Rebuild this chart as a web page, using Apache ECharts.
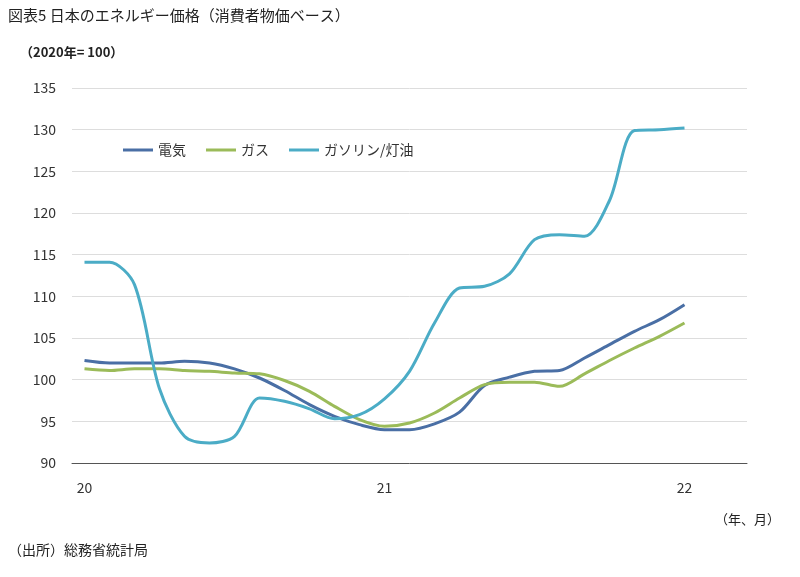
<!DOCTYPE html><html><head><meta charset="utf-8"><script src="https://cdn.jsdelivr.net/npm/echarts@6/dist/echarts.min.js"></script></head><body style="margin:0"><div id="c" style="width:800px;height:577px"></div><script>
const months=[];for(let i=0;i<27;i++){months.push(i%12===0?String(20+i/12):'');}
const elec=[102.3,102.0,102.0,102.0,102.2,102.0,101.3,100.2,98.7,97.0,95.6,94.6,94.0,94.0,94.7,96.1,99.3,100.3,101.0,101.1,102.6,104.2,105.8,107.2,109.0];
const gas=[101.3,101.1,101.3,101.3,101.1,101.0,100.8,100.7,99.9,98.6,96.8,95.2,94.4,94.8,96.0,97.8,99.4,99.7,99.7,99.2,100.7,102.3,103.8,105.2,106.8];
const petrol=[114.1,114.1,111.4,98.9,93.2,92.4,93.2,97.8,97.4,96.5,95.3,95.8,97.7,101.0,106.8,111.0,111.2,112.7,116.8,117.4,117.2,121.5,129.9,130.0,130.2];
const F='"Noto Sans CJK JP",sans-serif';
const s=(n,d,c)=>({name:n,type:'line',data:d,smooth:0.3,symbol:'none',lineStyle:{width:3,color:c},itemStyle:{color:c}});
echarts.init(document.getElementById('c')).setOption({
textStyle:{fontFamily:F},
graphic:[
{type:'text',left:8,top:8,style:{text:'図表5 日本のエネルギー価格（消費者物価ベース）',font:'15px '+F,fill:'#222'}},
{type:'text',left:20,top:46,style:{text:'（2020年= 100）',font:'bold 13px '+F,fill:'#222'}},
{type:'text',left:715,top:513,style:{text:'（年、月）',font:'13px '+F,fill:'#222'}},
{type:'text',left:8,top:543,style:{text:'（出所）総務省統計局',font:'14px '+F,fill:'#222'}}],
legend:{left:118,top:138,itemWidth:30,itemHeight:3,itemGap:20,textStyle:{fontSize:14,color:'#333',fontFamily:F},icon:'rect'},
grid:{left:72,right:53,top:88,bottom:114},
xAxis:{type:'category',data:months,boundaryGap:true,axisLine:{lineStyle:{color:'#555'}},axisTick:{inside:true,length:5,lineStyle:{color:'#555'},interval:0},axisLabel:{interval:0,color:'#333',fontSize:14,margin:18}},
yAxis:{type:'value',min:90,max:135,interval:5,axisLine:{show:false},axisTick:{show:false},splitLine:{lineStyle:{color:'#ddd'}},axisLabel:{color:'#333',fontSize:14,margin:16}},
series:[s('電気',elec,'#4a6fa5'),s('ガス',gas,'#9bbb59'),s('ガソリン/灯油',petrol,'#4bacc6')]
});
</script></body></html>
